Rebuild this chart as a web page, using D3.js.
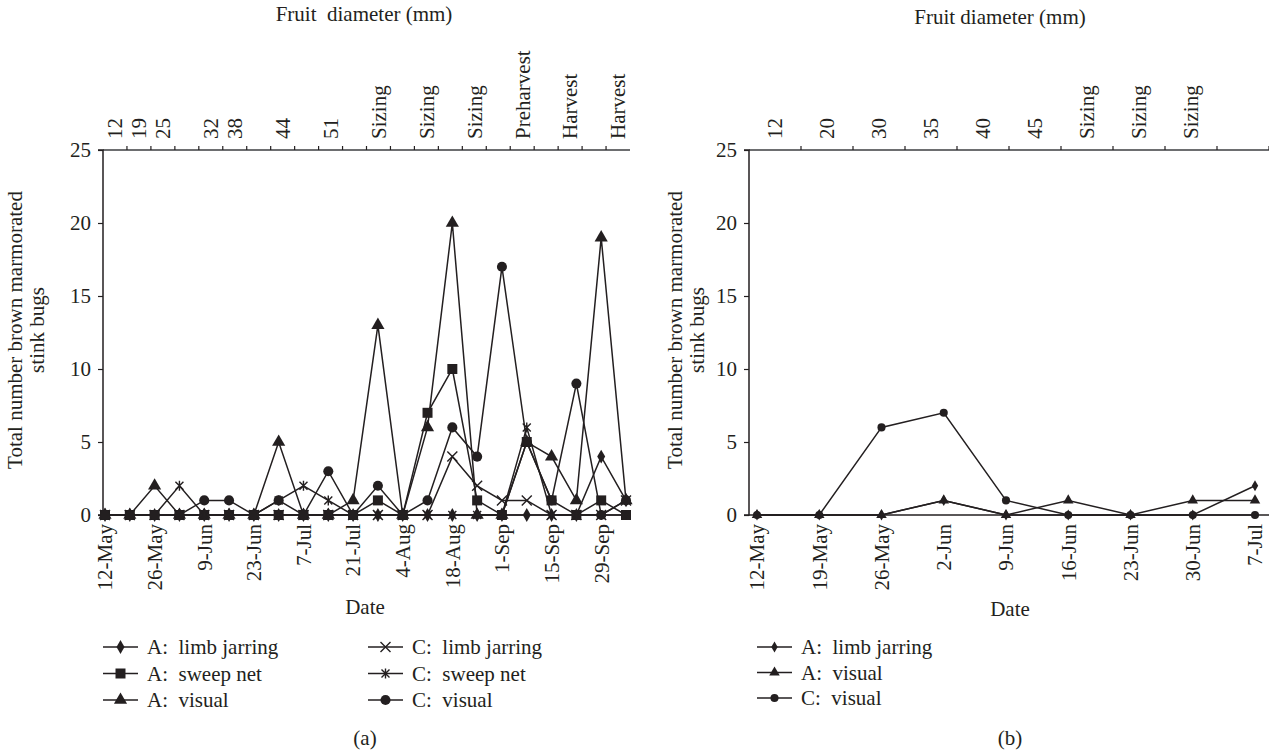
<!DOCTYPE html>
<html><head><meta charset="utf-8">
<script src="https://cdn.jsdelivr.net/npm/d3@7"></script>
<style>
body{margin:0;background:#fff;}
text{font-family:"Liberation Serif","DejaVu Serif",serif;fill:#231f20;}
</style></head>
<body><svg id="c" width="1269" height="752"></svg>
<script>
// ---------- data ----------
const datesA = ["12-May","19-May","26-May","2-Jun","9-Jun","16-Jun","23-Jun","30-Jun","7-Jul","14-Jul","21-Jul","28-Jul","4-Aug","11-Aug","18-Aug","25-Aug","1-Sep","8-Sep","15-Sep","22-Sep","29-Sep","6-Oct"];
const topLabelsA = ["12","19","25","","32","38","","44","","51","","Sizing","","Sizing","","Sizing","","Preharvest","","Harvest","","Harvest"];
const aLimbJarring = [0,0,0,0,0,0,0,0,0,0,0,0,0,0,0,0,0,0,0,0,4,1];
const aSweepNet    = [0,0,0,0,0,0,0,0,0,0,0,1,0,7,10,1,0,5,1,0,1,0];
const aVisual      = [0,0,2,0,0,0,0,5,0,0,1,13,0,6,20,0,0,5,4,1,19,1];
const cLimbJarring = [0,0,0,0,0,0,0,0,0,0,0,0,0,0,4,2,1,1,0,0,0,1];
const cSweepNet    = [0,0,0,2,0,0,0,1,2,1,0,0,0,0,0,0,0,6,0,0,0,0];
const cVisual      = [0,0,0,0,1,1,0,1,0,3,0,2,0,1,6,4,17,5,1,9,0,1];

const datesB = ["12-May","19-May","26-May","2-Jun","9-Jun","16-Jun","23-Jun","30-Jun","7-Jul"];
const topLabelsB = ["12","20","30","35","40","45","Sizing","Sizing","Sizing",""];
const bLimbJarring = [0,0,0,1,0,0,0,0,2];
const bVisualA     = [0,0,0,1,0,1,0,1,1];
const bVisualC     = [0,0,6,7,1,0,0,0,0];
const yTicks = [0,5,10,15,20,25];

// ---------- helpers ----------
const svg = d3.select("#c");
const INK = "#231f20";
const FS = 21;

function markerPath(type, s){
  const h = s/2;
  switch(type){
    case "diamond": return d3.symbol(d3.symbolDiamond, s*s*0.55)();
    case "square": return d3.symbol(d3.symbolSquare, s*s)();
    case "triangle": return d3.symbol(d3.symbolTriangle, s*s*0.75)();
    case "circle": return d3.symbol(d3.symbolCircle, s*s*0.8)();
    case "x": return `M${-h},${-h}L${h},${h}M${-h},${h}L${h},${-h}`;
    case "star": return `M${-h*0.8},${-h*0.8}L${h*0.8},${h*0.8}M${-h*0.8},${h*0.8}L${h*0.8},${-h*0.8}M0,${-h}L0,${h}`;
  }
}
function drawMarker(g, type, x, y, s){
  const p = g.append("path").attr("d", markerPath(type, s)).attr("transform", `translate(${x},${y})`);
  if(type==="x"||type==="star") p.attr("fill","none").attr("stroke",INK).attr("stroke-width",1.4);
  else p.attr("fill",INK).attr("stroke","none");
}

function panel(cfg){
  const g = svg.append("g");
  const y = d3.scaleLinear().domain([0,25]).range([cfg.y0, cfg.y1]);
  const x = d3.scalePoint().domain(cfg.dates).range([cfg.px0, cfg.px1]);
  const band = d3.scaleBand().domain(d3.range(cfg.topLabels.length)).range([cfg.ax0, cfg.ax1]);

  // top axis
  g.append("line").attr("x1",cfg.ax0).attr("x2",cfg.ax1).attr("y1",y(25)).attr("y2",y(25))
    .attr("stroke","#6d6e70").attr("stroke-width",2);
  band.domain().forEach(i=>{
    const tx = band(i)+band.bandwidth();
    if(i < cfg.topLabels.length-1 || cfg.lastTick)
      g.append("line").attr("x1",tx).attr("x2",tx).attr("y1",y(25)-4).attr("y2",y(25)).attr("stroke",INK).attr("stroke-width",1.2);
    const lab = cfg.topLabels[i];
    if(lab) g.append("text").attr("transform",`translate(${band(i)+band.bandwidth()/2},${y(25)-11}) rotate(-90)`)
      .attr("dy","0.35em").attr("font-size",FS).text(lab);
  });
  g.append("text").attr("x",cfg.titleX).attr("y",cfg.titleY).attr("text-anchor","middle").attr("font-size",FS)
    .attr("xml:space","preserve").text(cfg.title);

  // y axis
  const yAxis = d3.axisLeft(y).tickValues(yTicks).tickSize(5).tickPadding(7);
  const ya = g.append("g").attr("transform",`translate(${cfg.ax0},0)`).call(yAxis);
  ya.select(".domain").attr("stroke",INK).attr("stroke-width",1.5).attr("d",`M-5,${y(0)}H0V${y(25)}H-5`);
  ya.selectAll(".tick line").attr("stroke",INK).attr("stroke-width",1.2);
  ya.selectAll(".tick text").attr("font-size",FS).attr("font-family","Liberation Serif").attr("fill",INK);

  // y title
  g.append("text").attr("transform",`translate(${cfg.ytX},${cfg.ytY}) rotate(-90)`).attr("text-anchor","middle").attr("font-size",FS)
    .selectAll("tspan").data(["Total number brown marmorated","stink bugs"]).join("tspan")
    .attr("x",0).attr("dy",(d,i)=> i? "1.05em":"0").text(d=>d);

  // bottom baseline
  g.append("line").attr("x1",cfg.ax0).attr("x2",cfg.ax1).attr("y1",y(0)).attr("y2",y(0)).attr("stroke",INK).attr("stroke-width",1.5);

  // date labels
  cfg.dates.forEach((d,i)=>{
    if(i % cfg.every === 0)
      g.append("text").attr("transform",`translate(${x(d)},${y(0)+9}) rotate(-90)`).attr("text-anchor","end")
        .attr("dy","0.35em").attr("font-size",FS).text(d);
  });
  g.append("text").attr("x",cfg.dateX).attr("y",cfg.dateY).attr("text-anchor","middle").attr("font-size",FS).text("Date");

  // series
  const line = d3.line().x((v,i)=>x(cfg.dates[i])).y(v=>y(v));
  cfg.series.forEach(s=>{
    g.append("path").attr("d",line(s.values)).attr("fill","none").attr("stroke",INK).attr("stroke-width",1.5);
  });
  cfg.series.forEach(s=>{
    s.values.forEach((v,i)=>drawMarker(g, s.marker, x(cfg.dates[i]), y(v), cfg.ms));
  });

  // legend
  cfg.series.forEach((s,k)=>{
    const col = Math.floor(k/3), row = k%3;
    const lx = cfg.legX[col], ly = cfg.legY + row*cfg.legDy;
    g.append("line").attr("x1",lx).attr("x2",lx+cfg.legLen).attr("y1",ly).attr("y2",ly).attr("stroke",INK).attr("stroke-width",1.5);
    drawMarker(g, s.marker, lx+cfg.legLen/2, ly, cfg.ms);
    g.append("text").attr("x",lx+cfg.legLen+9).attr("y",ly).attr("dy","0.35em").attr("font-size",FS).attr("xml:space","preserve").text(s.name);
  });
  g.append("text").attr("x",cfg.capX).attr("y",745).attr("text-anchor","middle").attr("font-size",FS).text(cfg.cap);
}

panel({
  dates: datesA, topLabels: topLabelsA, every: 2, lastTick: false,
  y0: 515, y1: 150, px0: 105, px1: 626, ax0: 103, ax1: 630,
  title: "Fruit  diameter (mm)", titleX: 364, titleY: 21,
  ytX: 22, ytY: 330, dateX: 365, dateY: 614,
  ms: 10,
  series: [
    {name:"A:  limb jarring", values:aLimbJarring, marker:"diamond"},
    {name:"A:  sweep net", values:aSweepNet, marker:"square"},
    {name:"A:  visual", values:aVisual, marker:"triangle"},
    {name:"C:  limb jarring", values:cLimbJarring, marker:"x"},
    {name:"C:  sweep net", values:cSweepNet, marker:"star"},
    {name:"C:  visual", values:cVisual, marker:"circle"}
  ],
  legX: [103, 368], legY: 647, legDy: 26.5, legLen: 35,
  cap: "(a)", capX: 365
});

panel({
  dates: datesB, topLabels: topLabelsB, every: 1, lastTick: true,
  y0: 515, y1: 150, px0: 757, px1: 1255, ax0: 749, ax1: 1269,
  title: "Fruit diameter (mm)", titleX: 1000, titleY: 24,
  ytX: 682, ytY: 330, dateX: 1010, dateY: 616,
  ms: 8,
  series: [
    {name:"A:  limb jarring", values:bLimbJarring, marker:"diamond"},
    {name:"A:  visual", values:bVisualA, marker:"triangle"},
    {name:"C:  visual", values:bVisualC, marker:"circle"}
  ],
  legX: [757], legY: 647, legDy: 25.5, legLen: 35,
  cap: "(b)", capX: 1010
});
</script></body></html>
